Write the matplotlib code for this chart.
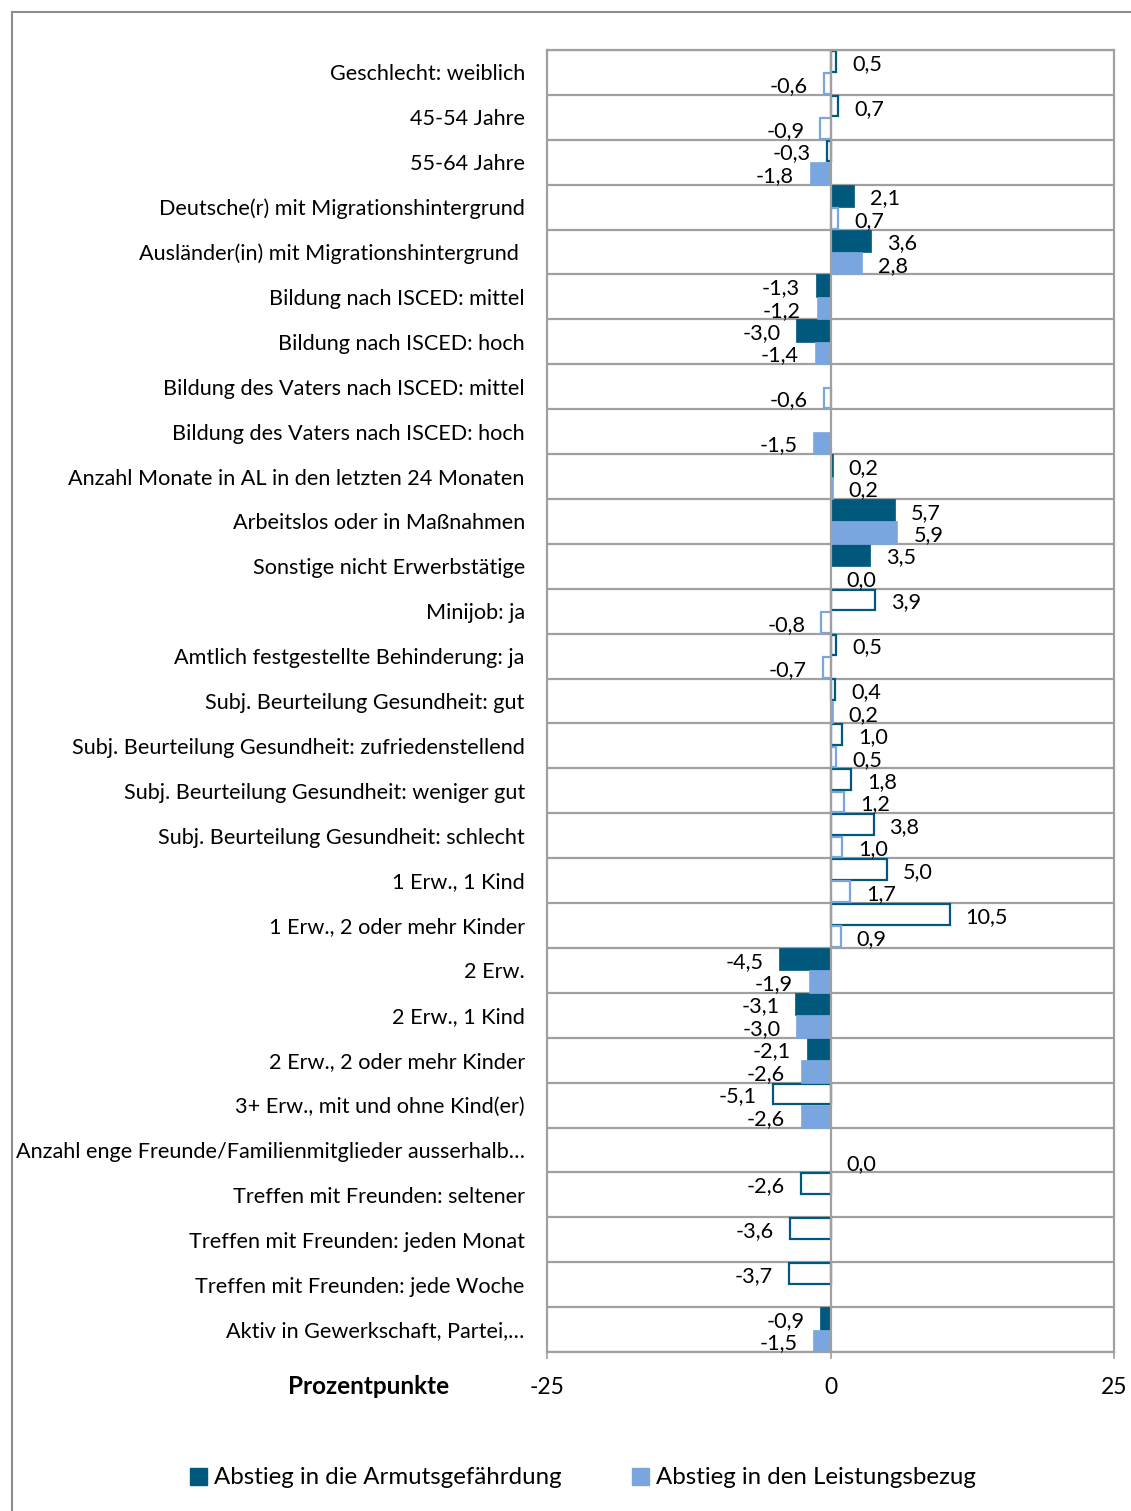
import matplotlib
matplotlib.use("Agg")
import matplotlib.pyplot as plt
from matplotlib.patches import Patch, Rectangle
import numpy as np

nan = np.nan

categories = [
    "Geschlecht: weiblich",
    "45-54 Jahre",
    "55-64 Jahre",
    "Deutsche(r) mit Migrationshintergrund",
    "Ausländer(in) mit Migrationshintergrund ",
    "Bildung nach ISCED: mittel",
    "Bildung nach ISCED: hoch",
    "Bildung des Vaters nach ISCED: mittel",
    "Bildung des Vaters nach ISCED: hoch",
    "Anzahl Monate in AL in den letzten 24 Monaten",
    "Arbeitslos oder in Maßnahmen",
    "Sonstige nicht Erwerbstätige",
    "Minijob: ja",
    "Amtlich festgestellte Behinderung: ja",
    "Subj. Beurteilung Gesundheit: gut",
    "Subj. Beurteilung Gesundheit: zufriedenstellend",
    "Subj. Beurteilung Gesundheit: weniger gut",
    "Subj. Beurteilung Gesundheit: schlecht",
    "1 Erw., 1 Kind",
    "1 Erw., 2 oder mehr Kinder",
    "2 Erw.",
    "2 Erw., 1 Kind",
    "2 Erw., 2 oder mehr Kinder",
    "3+ Erw., mit und ohne Kind(er)",
    "Anzahl enge Freunde/Familienmitglieder ausserhalb…",
    "Treffen mit Freunden: seltener",
    "Treffen mit Freunden: jeden Monat",
    "Treffen mit Freunden: jede Woche",
    "Aktiv in Gewerkschaft, Partei,…",
]

# Abstieg in die Armutsgefährdung
armut = [0.5, 0.7, -0.3, 2.1, 3.6, -1.3, -3.0, nan, nan, 0.2, 5.7, 3.5, 3.9, 0.5,
         0.4, 1.0, 1.8, 3.8, 5.0, 10.5, -4.5, -3.1, -2.1, -5.1, nan, -2.6, -3.6, -3.7, -0.9]
# significant (filled) vs. not significant (hollow)
armut_sig = [0, 0, 0, 1, 1, 1, 1, 0, 0, 1, 1, 1, 0, 0,
             0, 0, 0, 0, 0, 0, 1, 1, 1, 0, 0, 0, 0, 0, 1]

# Abstieg in den Leistungsbezug
leistung = [-0.6, -0.9, -1.8, 0.7, 2.8, -1.2, -1.4, -0.6, -1.5, 0.2, 5.9, 0.0, -0.8, -0.7,
            0.2, 0.5, 1.2, 1.0, 1.7, 0.9, -1.9, -3.0, -2.6, -2.6, 0.0, nan, nan, nan, -1.5]
leistung_sig = [0, 0, 1, 0, 1, 1, 1, 0, 1, 1, 1, 1, 0, 0,
                1, 0, 0, 0, 0, 0, 1, 1, 1, 1, 1, 0, 0, 0, 1]

series_names = ["Abstieg in die Armutsgefährdung", "Abstieg in den Leistungsbezug"]
DARK, LIGHT = "#00587c", "#7aa6e0"
GRID = "#a0a0a0"
FS = 15.6

plt.rcParams["font.family"] = ["Lato", "DejaVu Sans"]

W, H = 1131, 1511
fig = plt.figure(figsize=(W / 100, H / 100), dpi=100)
ax = fig.add_axes([547 / W, 1 - 1352 / H, (1114 - 547) / W, (1352 - 50) / H])

n = len(categories)
y = np.arange(n)


def draw_series(vals, sig, offset, color):
    for yi, v, s in zip(y, vals, sig):
        if np.isnan(v):
            continue
        if s:
            ax.barh(yi + offset, v, height=0.5, color=color, edgecolor=color, lw=0.5, zorder=2)
        else:
            ax.barh(yi + offset, v, height=0.46, color="white", edgecolor=color, lw=1.6, zorder=2)
        lab = f"{v:.1f}".replace(".", ",")
        dx = 11.5 if v >= 0 else -11.5
        ax.annotate(lab, (v, yi + offset), xytext=(dx, -1.8), textcoords="offset points",
                    ha="left" if v >= 0 else "right", va="center", fontsize=FS, zorder=4)


draw_series(armut, armut_sig, -0.25, DARK)
draw_series(leistung, leistung_sig, 0.25, LIGHT)

ax.set_xlim(-25, 25)
ax.set_ylim(n - 0.5, -0.5)
for b in np.arange(-0.5, n, 1.0):
    ax.axhline(b, color=GRID, lw=1.6, zorder=1)
ax.axvline(0, color=GRID, lw=1.6, zorder=3)

for side in ["left", "right", "top", "bottom"]:
    ax.spines[side].set_color(GRID)
    ax.spines[side].set_linewidth(1.6)

ax.set_yticks(y)
ax.set_yticklabels(categories, fontsize=FS)
ax.tick_params(axis="y", length=0, pad=16)
ax.set_xticks([-25, 0, 25])
ax.set_xticklabels(["-25", "0", "25"], fontsize=16.5)
ax.tick_params(axis="x", length=5, color=GRID, width=1.2, pad=13)

fig.text(369 / W, 1 - 1386 / H, "Prozentpunkte", fontsize=17.5, fontweight="bold",
         ha="center", va="center")

handles = [Patch(facecolor=DARK, edgecolor=DARK), Patch(facecolor=LIGHT, edgecolor=LIGHT)]
fig.legend(handles, series_names, loc="center", bbox_to_anchor=(583 / W, 1 - 1478 / H),
           ncol=2, frameon=False, fontsize=17.3, handlelength=0.7, handleheight=0.7,
           handletextpad=0.3, columnspacing=2.9)

# outer chart frame (cropped at right/bottom)
fig.add_artist(Rectangle((12 / W, -0.05), 1.2, 1 - 12 / H + 0.05, transform=fig.transFigure,
                         fill=False, edgecolor="#8c8c8c", lw=1.5))

fig.savefig("out.png", dpi=100)
